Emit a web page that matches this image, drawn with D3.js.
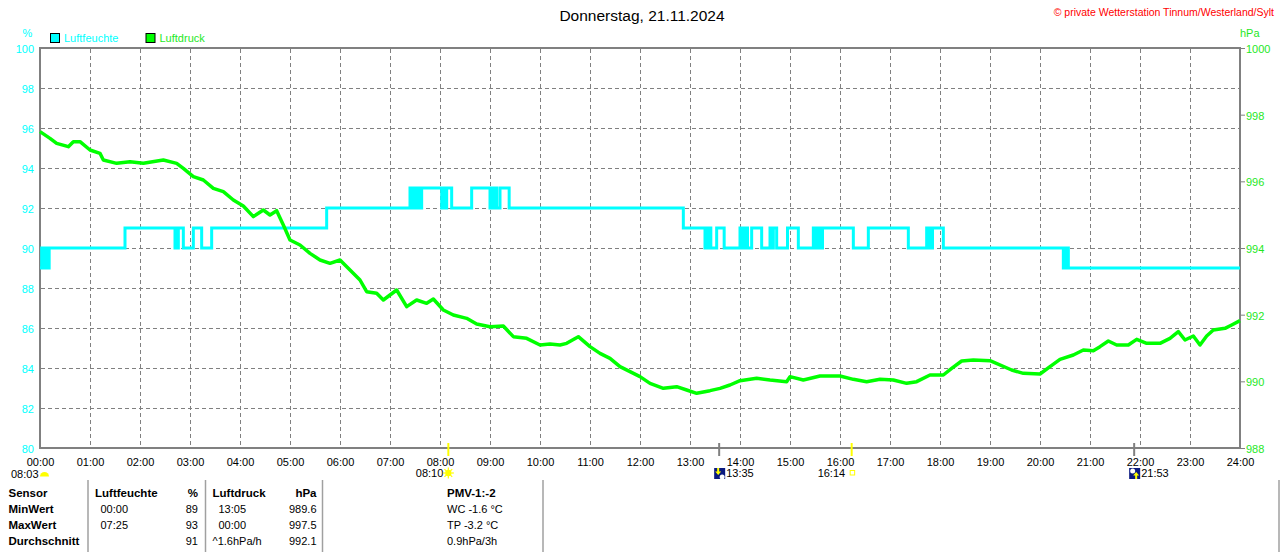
<!DOCTYPE html>
<html>
<head>
<meta charset="utf-8">
<script src="https://cdn.jsdelivr.net/npm/d3@7"></script>
<style>
  html, body { margin: 0; padding: 0; background: #fff; }
  svg { display: block; font-family: Arial, "Liberation Sans", sans-serif; }
</style>
</head>
<body>
<svg id="chart" width="1280" height="552"></svg>
<script>
'use strict';

// all times are minutes after midnight
const hourTicks = d3.range(0, 25);
const humidityTicks = [80, 82, 84, 86, 88, 90, 92, 94, 96, 98, 100];
const pressureTicks = [988, 990, 992, 994, 996, 998, 1000];

// Luftfeuchte (%), stepped values, each one holds until the next change
const humidityMinutes = [
  0, 2, 3, 5, 6, 8, 9, 11,
  102,
  162, 163, 164, 166, 172, 184, 194, 206,
  344,
  444, 445, 446, 448, 450, 452, 454, 456, 458,
  482, 484, 486, 488, 494,
  518,
  540, 542, 544, 546, 548, 552,
  563,
  772,
  798, 799, 801, 803, 805,
  812, 821,
  840, 841, 843, 845, 847, 849, 854,
  866,
  876, 878, 880, 884,
  897, 910,
  928, 929, 931, 933, 935, 937, 939,
  976, 994, 1042,
  1064, 1065, 1067, 1069, 1071,
  1084,
  1228, 1229, 1231, 1232, 1234,
  1440
];
const humidityValues = [
  89, 90, 89, 90, 89, 90, 89, 90,
  91,
  90, 91, 90, 91, 90, 91, 90, 91,
  92,
  93, 92, 93, 92, 93, 92, 93, 92, 93,
  92, 93, 92, 93, 92,
  93,
  92, 93, 92, 93, 92, 93,
  92,
  91,
  90, 91, 90, 91, 90,
  91, 90,
  91, 90, 91, 90, 91, 90, 91,
  90,
  91, 90, 91, 90,
  91, 90,
  91, 90, 91, 90, 91, 90, 91,
  90, 91, 90,
  91, 90, 91, 90, 91,
  90,
  89, 90, 89, 90, 89,
  89
];

// Luftdruck (hPa)
const pressureMinutes = [
  0, 12, 20, 34, 40, 48, 60, 72, 76, 92, 108, 124, 148, 164, 172, 184, 196, 208,
  220, 232, 244, 256, 268, 276, 284, 292, 300, 312, 324, 336, 348, 360, 372, 384,
  392, 404, 412, 428, 440, 452, 464, 472, 484, 496, 512, 524, 540, 556, 568, 584,
  600, 612, 624, 632, 646, 660, 672, 684, 696, 708, 720, 732, 748, 764, 776, 788,
  804, 816, 828, 840, 860, 876, 896, 900, 916, 936, 960, 976, 992, 1008, 1024,
  1040, 1052, 1068, 1084, 1094, 1106, 1120, 1140, 1166, 1180, 1200, 1212, 1224,
  1240, 1252, 1264, 1272, 1282, 1292, 1306, 1316, 1328, 1344, 1356, 1366, 1374,
  1384, 1392, 1400, 1408, 1422, 1430, 1440
];
const pressureValues = [
  997.49, 997.29, 997.14, 997.04, 997.19, 997.19, 996.94, 996.84, 996.64, 996.54,
  996.59, 996.54, 996.64, 996.54, 996.39, 996.14, 996.04, 995.79, 995.69, 995.44,
  995.26, 994.94, 995.14, 994.99, 995.12, 994.69, 994.24, 994.09, 993.84, 993.64,
  993.54, 993.64, 993.34, 993.04, 992.69, 992.64, 992.44, 992.74, 992.24, 992.44,
  992.34, 992.47, 992.14, 991.99, 991.89, 991.72, 991.64, 991.66, 991.34, 991.29,
  991.09, 991.12, 991.09, 991.14, 991.34, 991.04, 990.84, 990.69, 990.44, 990.29,
  990.14, 989.94, 989.79, 989.84, 989.74, 989.64, 989.72, 989.79, 989.89, 990.02,
  990.09, 990.04, 989.99, 990.14, 990.04, 990.16, 990.16, 990.06, 989.99, 990.06,
  990.04, 989.94, 989.99, 990.19, 990.19, 990.39, 990.61, 990.64, 990.62, 990.34,
  990.24, 990.22, 990.44, 990.66, 990.79, 990.94, 990.92, 991.04, 991.21, 991.09,
  991.09, 991.26, 991.14, 991.14, 991.29, 991.49, 991.24, 991.36, 991.09, 991.36,
  991.54, 991.59, 991.69, 991.82
];

// sun / moon events on the time axis
const eventLabels = ['08:10', '13:35', '16:14', '21:53'];
const eventKinds = ['sunrise', 'moonset', 'sunset', 'moonrise'];
const dawnLabel = '08:03';

// statistics table
const rowLabels = ['Sensor', 'MinWert', 'MaxWert', 'Durchschnitt'];
const humidityStats = [['Luftfeuchte', '%'], ['00:00', '89'], ['07:25', '93'], ['', '91']];
const pressureStats = [['Luftdruck', 'hPa'], ['13:05', '989.6'], ['00:00', '997.5'], ['^1.6hPa/h', '992.1']];
const pmvLines = ['PMV-1:-2', 'WC -1.6 °C', 'TP -3.2 °C', '0.9hPa/3h'];

const CYAN = '#00ffff';
const GREEN = '#00ff00';
const GREEN_TEXT = '#1ee81e';
const GRAY = '#808080';
const YELLOW = '#ffff00';

const toMinutes = s => +s.slice(0, 2) * 60 + +s.slice(3, 5);

const svg = d3.select('#chart');

const x = d3.scaleLinear().domain([0, 1440]).range([40, 1240]);
const yH = d3.scaleLinear().domain([80, 100]).range([448, 48]);
const yP = d3.scaleLinear().domain([988, 1000]).range([448, 48]);

// title + copyright
svg.append('text')
  .attr('x', 642).attr('y', 20.5)
  .attr('text-anchor', 'middle')
  .style('font-size', '15.5px')
  .text('Donnerstag, 21.11.2024');

svg.append('text')
  .attr('x', 1274).attr('y', 16)
  .attr('text-anchor', 'end')
  .style('font-size', '10.5px')
  .attr('fill', '#ff0000')
  .text('© private Wetterstation Tinnum/Westerland/Sylt');

// unit labels and legend
svg.append('text').attr('x', 22.5).attr('y', 37).attr('fill', CYAN).style('font-size', '11px').text('%');
svg.append('text').attr('x', 1240).attr('y', 37).attr('fill', GREEN_TEXT).style('font-size', '11px').text('hPa');

const legend = [['Luftfeuchte', CYAN, 50], ['Luftdruck', GREEN, 145.5]];
legend.forEach(([name, color, lx]) => {
  svg.append('rect')
    .attr('x', lx + 0.5).attr('y', 33.5).attr('width', 9).attr('height', 9)
    .attr('fill', color).attr('stroke', '#000').attr('stroke-width', 1);
  svg.append('text')
    .attr('x', lx + 14).attr('y', 42)
    .attr('fill', color === GREEN ? GREEN_TEXT : color)
    .style('font-size', '11px')
    .text(name);
});

// grid
const grid = svg.append('g').attr('stroke', GRAY).attr('stroke-width', 1).attr('stroke-dasharray', '4,3');
grid.selectAll('line.v')
  .data(hourTicks.slice(1, -1))
  .join('line')
  .attr('x1', h => x(h * 60) + 0.5).attr('x2', h => x(h * 60) + 0.5)
  .attr('y1', 49).attr('y2', 447);
grid.selectAll('line.h')
  .data(humidityTicks.slice(1, -1))
  .join('line')
  .attr('x1', 41).attr('x2', 1239)
  .attr('y1', d => yH(d) + 0.5).attr('y2', d => yH(d) + 0.5);

// axes
const leftAxis = svg.append('g')
  .attr('transform', 'translate(40,0)')
  .call(d3.axisLeft(yH).tickValues(humidityTicks).tickSize(0).tickPadding(6));
leftAxis.select('.domain').remove();
leftAxis.selectAll('text').attr('fill', CYAN).attr('dy', '0.42em').style('font-size', '11px').style('font-family', null);

const rightAxis = svg.append('g')
  .attr('transform', 'translate(1240,0)')
  .call(d3.axisRight(yP).tickValues(pressureTicks).tickSize(5).tickPadding(1).tickFormat(d3.format('d')));
rightAxis.select('.domain').remove();
rightAxis.selectAll('line').attr('stroke', GRAY);
rightAxis.selectAll('text').attr('fill', GREEN_TEXT).attr('dy', '0.42em').style('font-size', '11px').style('font-family', null);

const bottomAxis = svg.append('g')
  .attr('transform', 'translate(0,448)')
  .call(d3.axisBottom(x)
    .tickValues(hourTicks.map(h => h * 60))
    .tickSize(0).tickPadding(10.5)
    .tickFormat(m => String(m / 60).padStart(2, '0') + ':00'));
bottomAxis.select('.domain').remove();
bottomAxis.selectAll('text').attr('fill', '#000').style('font-size', '11px').style('font-family', null);

// frame
svg.append('rect')
  .attr('x', 40).attr('y', 48).attr('width', 1200).attr('height', 400)
  .attr('fill', 'none').attr('stroke', GRAY).attr('stroke-width', 2);

// series
const humidity = humidityMinutes.map((m, i) => ({ m, v: humidityValues[i] }));
const pressure = pressureMinutes.map((m, i) => ({ m, v: pressureValues[i] }));

svg.append('path')
  .datum(humidity)
  .attr('fill', 'none')
  .attr('stroke', CYAN)
  .attr('stroke-width', 3)
  .attr('d', d3.line().x(d => x(d.m)).y(d => yH(d.v)).curve(d3.curveStepAfter));

svg.append('path')
  .datum(pressure)
  .attr('fill', 'none')
  .attr('stroke', GREEN)
  .attr('stroke-width', 3.5)
  .attr('stroke-linejoin', 'round')
  .attr('d', d3.line().x(d => x(d.m)).y(d => yP(d.v)));

// event markers below the axis
const events = eventLabels.map((label, i) => ({ label, kind: eventKinds[i], m: toMinutes(label) }));
svg.selectAll('line.event')
  .data(events)
  .join('line')
  .attr('x1', d => x(d.m)).attr('x2', d => x(d.m))
  .attr('y1', 443).attr('y2', 456)
  .attr('stroke', d => d.kind.startsWith('sun') ? YELLOW : GRAY)
  .attr('stroke-width', 2);

const drawSun = (cx, cy) => {
  const g = svg.append('g').attr('transform', `translate(${cx},${cy})`);
  d3.range(8).forEach(k => {
    const a = k * Math.PI / 4;
    g.append('line')
      .attr('x1', Math.cos(a) * 3).attr('y1', Math.sin(a) * 3)
      .attr('x2', Math.cos(a) * 5.5).attr('y2', Math.sin(a) * 5.5)
      .attr('stroke', YELLOW).attr('stroke-width', 1.2);
  });
  g.append('circle').attr('r', 3.2).attr('fill', YELLOW);
};

const drawMoon = (x0, rising) => {
  const g = svg.append('g').attr('transform', `translate(${x0},468)`);
  g.append('rect').attr('width', 11).attr('height', 11).attr('fill', '#0a1a80');
  if (rising) {
    g.append('circle').attr('cx', 3.5).attr('cy', 3).attr('r', 2.5).attr('fill', '#fff');
    g.append('path').attr('d', 'M7,4 L10,7.5 L8,7.5 L8,11 L6,11 L6,7.5 L4,7.5 Z').attr('fill', YELLOW);
  } else {
    g.append('path').attr('d', 'M4,7 L1,3.5 L3,3.5 L3,0 L5,0 L5,3.5 L7,3.5 Z').attr('fill', YELLOW);
    g.append('circle').attr('cx', 8).attr('cy', 9).attr('r', 2.5).attr('fill', '#fff');
  }
};

events.forEach(d => {
  const px = x(d.m);
  if (d.kind === 'sunrise') {
    svg.append('text').attr('x', px - 5).attr('y', 477).attr('text-anchor', 'end').style('font-size', '11px').text(d.label);
    drawSun(px, 473);
  } else if (d.kind === 'sunset') {
    svg.append('text').attr('x', px - 6.5).attr('y', 477).attr('text-anchor', 'end').style('font-size', '11px').text(d.label);
    svg.append('rect').attr('x', px - 1.5).attr('y', 470.5).attr('width', 4.5).attr('height', 4.5)
      .attr('fill', 'none').attr('stroke', YELLOW).attr('stroke-width', 1);
  } else {
    drawMoon(px - 5, d.kind === 'moonrise');
    svg.append('text').attr('x', px + 7).attr('y', 477).style('font-size', '11px').text(d.label);
  }
});

// dawn label at the left edge with a rising half sun
svg.append('text').attr('x', 11).attr('y', 477.5).style('font-size', '11px').text(dawnLabel);
svg.append('path')
  .attr('d', d3.arc()({ innerRadius: 0, outerRadius: 4.5, startAngle: -Math.PI / 2, endAngle: Math.PI / 2 }))
  .attr('transform', 'translate(44.5,476.5)')
  .attr('fill', YELLOW);

// statistics table
const table = svg.append('g').style('font-size', '11px');
[88, 205.5, 322.5, 543, 1279].forEach(sx => {
  table.append('line')
    .attr('x1', sx).attr('x2', sx).attr('y1', 480).attr('y2', 552)
    .attr('stroke', '#a0a0a0').attr('stroke-width', 1.5);
});

const rowY = i => 497 + i * 16;
rowLabels.forEach((label, i) => {
  table.append('text').attr('x', 8.5).attr('y', rowY(i)).style('font-weight', 'bold').style('font-size', '11.5px').text(label);
});

const statColumn = (rows, xLeft, xRight, xIndent) => {
  rows.forEach(([left, right], i) => {
    const header = i === 0;
    table.append('text')
      .attr('x', header ? xLeft : xIndent(left)).attr('y', rowY(i))
      .style('font-weight', header ? 'bold' : null)
      .style('font-size', header ? '11.5px' : null)
      .text(left);
    table.append('text')
      .attr('x', xRight).attr('y', rowY(i))
      .attr('text-anchor', 'end')
      .style('font-weight', header ? 'bold' : null)
      .style('font-size', header ? '11.5px' : null)
      .text(right);
  });
};
statColumn(humidityStats, 95, 198, () => 100.5);
statColumn(pressureStats, 212.5, 316.5, s => s.startsWith('^') ? 212.5 : 218.5);

pmvLines.forEach((line, i) => {
  table.append('text')
    .attr('x', 447).attr('y', rowY(i))
    .style('font-weight', i === 0 ? 'bold' : null)
    .style('font-size', i === 0 ? '11.5px' : null)
    .text(line);
});
</script>
</body>
</html>
